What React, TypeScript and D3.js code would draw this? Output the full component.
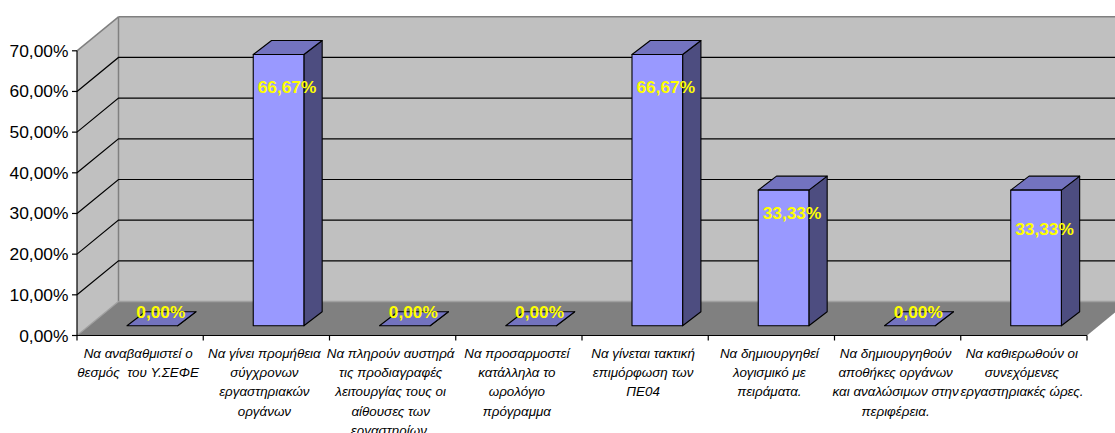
import React from "react";
import * as d3 from "d3";

const categoryLines: string[][] = [
  ["Να αναβαθμιστεί ο", "θεσμός  του Υ.ΣΕΦΕ"],
  ["Να γίνει προμήθεια", "σύγχρονων", "εργαστηριακών", "οργάνων"],
  ["Να πληρούν αυστηρά", "τις προδιαγραφές", "λειτουργίας τους οι", "αίθουσες των", "εργαστηρίων."],
  ["Να προσαρμοστεί", "κατάλληλα το", "ωρολόγιο", "πρόγραμμα"],
  ["Να γίνεται τακτική", "επιμόρφωση των", "ΠΕ04"],
  ["Να δημιουργηθεί", "λογισμικό με", "πειράματα."],
  ["Να δημιουργηθούν", "αποθήκες οργάνων", "και αναλώσιμων στην", "περιφέρεια."],
  ["Να καθιερωθούν οι", "συνεχόμενες", "εργαστηριακές ώρες."],
];
const values = [0, 66.67, 0, 0, 66.67, 33.33, 0, 33.33];
const valueLabels = ["0,00%", "66,67%", "0,00%", "0,00%", "66,67%", "33,33%", "0,00%", "33,33%"];
const tickValues = [0, 10, 20, 30, 40, 50, 60, 70];
const tickLabels = ["0,00%", "10,00%", "20,00%", "30,00%", "40,00%", "50,00%", "60,00%", "70,00%"];
// the reference's labels were dragged by hand: drop from the top of each bar
const labelDrop = [-14, 32, -14, -14, 32, 23, -14, 39];

const W = 1115, H = 433;
const x0 = 77, x1 = 1087;
const dx = 41.5, dy = 34;
const barDx = 18.3, barDy = 14;
const floorInset = 9.8;

const y = d3.scaleLinear().domain([0, 70]).range([335.5, 50.8]);
const x = d3.scaleBand<number>().domain(d3.range(values.length)).range([x0, x1]);
const pts = (p: number[][]) => p.map((q) => q.join(",")).join(" ");

export default function App() {
  const top = y(70);
  const bot = y(0);
  const bw = x.bandwidth();
  const barW = bw * 0.401;
  const barOff = bw * 0.396;
  return (
    <svg width={W} height={H} viewBox={`0 0 ${W} ${H}`}
      style={{ position: "absolute", left: 0, top: 0, background: "#fff", fontFamily: "'Liberation Sans', Arial, sans-serif" }}>
      {/* back wall */}
      <rect x={x0 + dx} y={top - dy} width={x1 - x0 + 40} height={bot - top} fill="#C0C0C0" />
      {/* left wall */}
      <polygon points={pts([[x0, top], [x0 + dx, top - dy], [x0 + dx, bot - dy], [x0, bot]])} fill="#C0C0C0" />
      {/* floor */}
      <polygon points={pts([[x0, bot], [x0 + dx, bot - dy], [x1 + dx, bot - dy], [x1, bot]])} fill="#808080" />
      {/* wall edges */}
      <line x1={x0 + dx} x2={W} y1={top - dy} y2={top - dy} stroke="#808080" strokeWidth={1.5} />
      <line x1={x0} x2={x0 + dx} y1={top} y2={top - dy} stroke="#808080" strokeWidth={1.5} />
      <line x1={x0 + dx} x2={x0 + dx} y1={top - dy} y2={bot - dy} stroke="#808080" strokeWidth={1.5} />
      <line x1={x0 + dx} x2={W} y1={bot - dy} y2={bot - dy} stroke="#A0A0A0" strokeWidth={1.5} />
      <line x1={x0} x2={x0 + dx} y1={bot} y2={bot - dy} stroke="#A0A0A0" strokeWidth={1.2} />
      {/* gridlines */}
      {tickValues.filter((t) => t > 0 && t < 70).map((t) => (
        <g key={t} stroke="#000" strokeWidth={1.2} fill="none">
          <polyline points={pts([[x0, y(t)], [x0 + dx, y(t) - dy], [W, y(t) - dy]])} />
        </g>
      ))}
      {/* axes */}
      <line x1={x0} x2={x0} y1={top} y2={bot} stroke="#000" strokeWidth={1.2} />
      <line x1={x0} x2={x1} y1={bot} y2={bot} stroke="#000" strokeWidth={1.2} />
      {tickValues.map((t, i) => (
        <g key={t}>
          <line x1={x0 - 5} x2={x0} y1={y(t)} y2={y(t)} stroke="#000" strokeWidth={1.2} />
          <text x={68.5} y={y(t) + 6} textAnchor="end" fontSize={17.4} fill="#000">{tickLabels[i]}</text>
        </g>
      ))}
      {d3.range(values.length + 1).map((i) => {
        const tx = x0 + i * bw;
        return <line key={i} x1={tx} x2={tx} y1={bot} y2={bot + 5} stroke="#000" strokeWidth={1.2} />;
      })}
      {/* bars */}
      {values.map((v, i) => {
        const bx = (x(i) as number) + barOff;
        const yb = bot - floorInset;
        const yt = yb - (bot - y(v));
        return (
          <g key={i} stroke="#000" strokeWidth={1.1} strokeLinejoin="round">
            <polygon points={pts([[bx + barW, yt], [bx + barW + barDx, yt - barDy], [bx + barW + barDx, yb - barDy], [bx + barW, yb]])} fill="#4D4D80" />
            <polygon points={pts([[bx, yt], [bx + barDx, yt - barDy], [bx + barW + barDx, yt - barDy], [bx + barW, yt]])} fill="#7373BF" />
            {v > 0 && <rect x={bx} y={yt} width={barW} height={yb - yt} fill="#9999FF" />}
          </g>
        );
      })}
      {/* value labels */}
      {values.map((v, i) => {
        const bx = (x(i) as number) + barOff;
        const yt = bot - floorInset - (bot - y(v));
        return (
          <text key={i} x={bx + barW / 2 + 8.5} y={yt + labelDrop[i] + 6} textAnchor="middle"
            fontSize={17.3} fontWeight="bold" fill="#FFFF00">{valueLabels[i]}</text>
        );
      })}
      {/* category labels */}
      {categoryLines.map((lines, i) => (
        <text key={i} textAnchor="middle" fontSize={13.4} fontStyle="italic" fill="#000">
          {lines.map((l, j) => (
            <tspan key={j} x={(x(i) as number) + bw / 2 - 2} y={358 + j * 19.2} xmlSpace="preserve">{l}</tspan>
          ))}
        </text>
      ))}
    </svg>
  );
}
